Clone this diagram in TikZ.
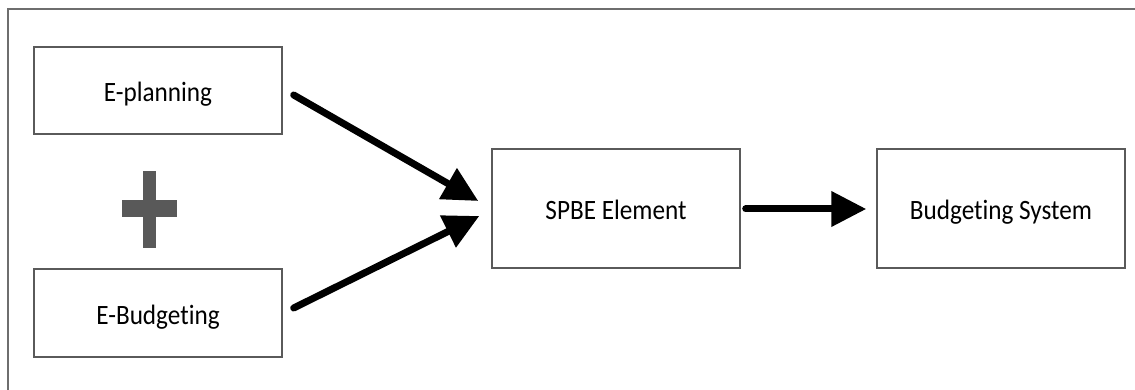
\documentclass[tikz,border=0pt]{standalone}
\usepackage{fontspec}
\setmainfont{Carlito}[FakeStretch=0.9, Ligatures={NoCommon}]
\usetikzlibrary{arrows.meta,calc}
\definecolor{framegray}{HTML}{6E6E6E}
\definecolor{boxgray}{HTML}{5A5A5A}
\definecolor{plusgray}{HTML}{595959}
\tikzset{
  stagebox/.style={draw=boxgray, line width=1.4pt, fill=white, rectangle,
    minimum width=248pt, inner sep=0pt, text height=23pt, text depth=0pt,
    font=\fontsize{28}{31}\selectfont},
  flow/.style={line width=7pt, line cap=round,
    -{Triangle[length=35pt,width=34pt]}},
  framing/.style={draw=framegray, line width=2pt}
}
\begin{document}
\begin{tikzpicture}[x=1pt,y=-1pt]
\useasboundingbox (0,0) rectangle (1135,390);
% outer frame (top and left edges)
\draw[framing] (8,390) -- (8,9.5) -- (1135,9.5);

% stages
\node[stagebox, minimum height=87pt] (ep) at (158,90.5) {E-planning};
\node[stagebox, minimum height=88pt] (eb) at (158,313) {E-Budgeting};
\node[stagebox, minimum height=119pt] (spbe) at (616,208.5) {SPBE Element};
\node[stagebox, minimum height=119pt] (bs) at (1001,208.5) {Budgeting System};

% plus sign between the two inputs
\fill[plusgray] (143,171) rectangle (156,248);
\fill[plusgray] (122,200) rectangle (177,217);

% arrow end points
\coordinate (epout) at ($(ep.east)+(11,4.5)$);
\coordinate (ebout) at ($(eb.east)+(11,-5)$);
\coordinate (spin1) at ($(spbe.west)+(-13,-7.5)$);
\coordinate (spin2) at ($(spbe.west)+(-12,7.5)$);
\coordinate (spout) at ($(spbe.east)+(5,0.5)$);
\coordinate (bsin) at ($(bs.west)+(-10,0.5)$);

% connectors
\draw[flow] (epout) -- (spin1);
\draw[flow] (ebout) -- (spin2);
\draw[flow] (spout) -- (bsin);
\end{tikzpicture}
\end{document}
